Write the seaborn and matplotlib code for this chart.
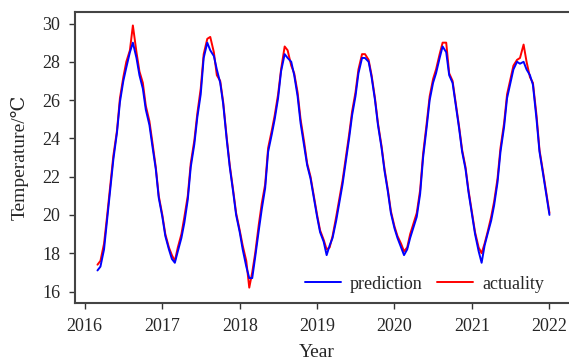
import pandas as pd
import matplotlib
matplotlib.use('Agg')
import matplotlib.pyplot as plt
import matplotlib.dates as mdates
import seaborn as sns

sns.set_style('ticks')
plt.rcParams['font.family'] = ['Liberation Serif', 'DejaVu Serif', 'DejaVu Sans']

# half-monthly readings, 2016-03-01 .. 2022-01-01
dates = pd.date_range('2016-03-01', '2022-01-01', freq='SMS')

prediction = [
    # 2016
    17.1, 17.3, 18.2, 19.7, 21.4, 22.9, 24.3, 25.9, 27.0, 27.7,
    28.5, 29.0, 28.2, 27.3, 26.6, 25.5, 24.7, 23.6, 22.4, 20.9,
    # 2017
    19.9, 18.9, 18.2, 17.7, 17.5, 18.1, 18.8, 19.6, 20.8, 22.5, 23.7, 25.1,
    26.3, 28.2, 29.0, 28.6, 28.3, 27.6, 26.9, 25.8, 23.9, 22.5, 21.2, 20.0,
    # 2018
    19.1, 18.2, 17.3, 16.7, 16.7, 17.8, 19.2, 20.3, 21.4, 23.3, 24.2, 25.0,
    26.1, 27.5, 28.4, 28.2, 28.0, 27.3, 26.2, 24.8, 23.6, 22.6, 21.9, 21.0,
    # 2019
    19.9, 19.1, 18.6, 17.9, 18.4, 18.8, 19.7, 20.6, 21.6, 22.7, 24.0, 25.2,
    26.2, 27.4, 28.2, 28.2, 28.0, 27.2, 26.0, 24.7, 23.5, 22.3, 21.2, 20.1,
    # 2020
    19.3, 18.8, 18.3, 17.9, 18.2, 18.8, 19.4, 19.9, 21.1, 23.0, 24.6, 26.0,
    26.9, 27.4, 28.2, 28.8, 28.5, 27.3, 26.9, 25.8, 24.5, 23.3, 22.4, 21.2,
    # 2021 + 2022-01-01
    20.0, 19.0, 18.1, 17.5, 18.4, 19.0, 19.7, 20.5, 21.7, 23.3, 24.6, 26.1,
    26.9, 27.6, 28.0, 27.9, 28.0, 27.6, 27.3, 26.8, 25.0, 23.3, 22.2, 21.2,
    20.0,
]

actuality = [
    # 2016
    17.4, 17.6, 18.5, 19.9, 21.6, 23.1, 24.4, 26.1, 27.2, 28.0,
    28.6, 29.9, 28.5, 27.5, 26.9, 25.7, 24.9, 23.8, 22.5, 21.0,
    # 2017
    20.0, 19.0, 18.3, 17.9, 17.6, 18.3, 19.0, 19.9, 21.0, 22.7, 23.9, 25.3,
    26.6, 28.4, 29.2, 29.3, 28.5, 27.3, 27.0, 25.9, 24.0, 22.6, 21.3, 20.1,
    # 2018
    19.2, 18.4, 17.6, 16.2, 17.0, 18.0, 19.5, 20.6, 21.6, 23.5, 24.4, 25.2,
    26.3, 27.6, 28.8, 28.6, 27.8, 27.4, 26.4, 25.0, 23.8, 22.7, 22.0, 21.1,
    # 2019
    20.0, 19.2, 18.7, 18.2, 18.3, 18.9, 19.9, 20.8, 21.8, 22.9, 24.2, 25.4,
    26.4, 27.6, 28.4, 28.4, 28.1, 27.3, 26.1, 24.8, 23.6, 22.4, 21.3, 20.2,
    # 2020
    19.4, 18.9, 18.5, 18.1, 18.3, 19.0, 19.6, 20.1, 21.3, 23.2, 24.8, 26.2,
    27.1, 27.6, 28.4, 29.0, 29.0, 27.4, 27.0, 25.9, 24.6, 23.4, 22.5, 21.3,
    # 2021 + 2022-01-01
    20.1, 19.1, 18.3, 18.0, 18.5, 19.1, 19.9, 20.7, 21.9, 23.5, 24.8, 26.3,
    27.1, 27.8, 28.1, 28.2, 28.9, 28.0, 27.2, 26.9, 25.2, 23.4, 22.3, 21.3,
    20.1,
]

fig = plt.figure(figsize=(5.69, 3.61), dpi=100)
ax = fig.add_axes([0.1318, 0.1607, 0.87, 0.806])

# red first so blue sits on top, as in the original
sns.lineplot(x=dates, y=actuality, color='red', linewidth=1.4, label='actuality', ax=ax)
sns.lineplot(x=dates, y=prediction, color='blue', linewidth=1.4, label='prediction', ax=ax)

ax.set_xlim(pd.Timestamp('2015-11-16'), pd.Timestamp('2022-04-08'))
ax.set_ylim(15.4, 30.6)
ax.set_yticks(range(16, 31, 2))
ax.xaxis.set_major_locator(mdates.YearLocator())
ax.xaxis.set_major_formatter(mdates.DateFormatter('%Y'))

ax.set_xlabel('Year', fontsize=14)
ax.set_ylabel('Temperature/℃', fontsize=14)
ax.xaxis.set_label_coords(0.489, -0.141)
ax.yaxis.set_label_coords(-0.093, 0.5)
ax.tick_params(labelsize=13, length=4.5, width=1, color='#333333', pad=6)
for side in ['left', 'bottom', 'top']:
    ax.spines[side].set_color('#444444')
    ax.spines[side].set_linewidth(1.5)
ax.spines['right'].set_visible(False)

h, l = ax.get_legend_handles_labels()
ax.legend(h[::-1], l[::-1], loc='lower right', bbox_to_anchor=(0.98, -0.02),
          ncol=2, frameon=False, fontsize=13, handlelength=2.0,
          columnspacing=0.8, handletextpad=0.5)

fig.savefig('out.png', dpi=100)
